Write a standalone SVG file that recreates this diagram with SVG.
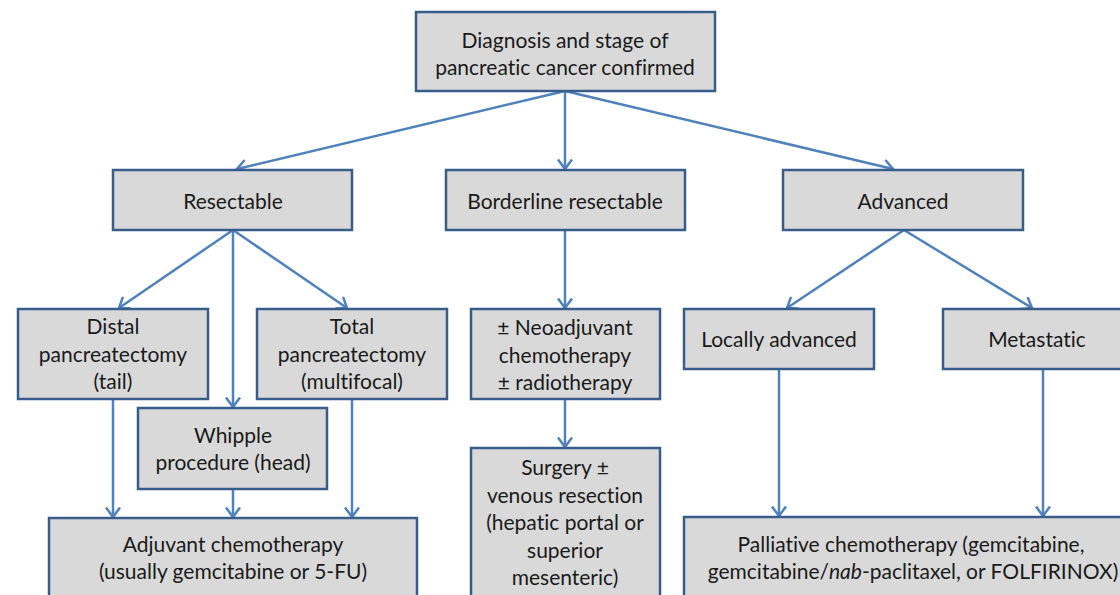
<svg xmlns="http://www.w3.org/2000/svg" width="1120" height="595" viewBox="0 0 1120 595">
  <defs>
    <style>
      .box { fill: #d9d9d9; stroke: #385d8a; stroke-width: 2.5; }
      .lbl { font-family: Lato, "Liberation Sans", sans-serif; font-size: 21px; fill: #1a1a1a; text-anchor: middle; font-variant-ligatures: none; }
      .edge { fill: none; stroke: #4f81bd; stroke-width: 2.5; marker-end: url(#arrow); }
    </style>
    <marker id="arrow" markerUnits="userSpaceOnUse" viewBox="0 0 12 16" markerWidth="12" markerHeight="16" refX="10.5" refY="8" orient="auto">
      <path d="M1,1 L10.5,8 L1,15" fill="none" stroke="#4f81bd" stroke-width="2.5"/>
    </marker>
  </defs>
  <rect width="1120" height="595" fill="#ffffff"/>

  <!-- connectors -->
  <g id="connectors">
    <line class="edge" x1="565" y1="91" x2="237" y2="169"/>
    <line class="edge" x1="565" y1="91" x2="565" y2="169"/>
    <line class="edge" x1="565" y1="91" x2="893" y2="169"/>
    <line class="edge" x1="233" y1="230" x2="119" y2="308"/>
    <line class="edge" x1="233" y1="230" x2="233" y2="407"/>
    <line class="edge" x1="233" y1="230" x2="347" y2="308"/>
    <line class="edge" x1="113" y1="399" x2="113" y2="517"/>
    <line class="edge" x1="233" y1="489" x2="233" y2="517"/>
    <line class="edge" x1="352" y1="399" x2="352" y2="517"/>
    <line class="edge" x1="565" y1="230" x2="565" y2="308"/>
    <line class="edge" x1="565" y1="399" x2="565" y2="447"/>
    <line class="edge" x1="904" y1="230" x2="787" y2="308"/>
    <line class="edge" x1="904" y1="230" x2="1032" y2="308"/>
    <line class="edge" x1="779" y1="369" x2="779" y2="516"/>
    <line class="edge" x1="1043" y1="369" x2="1043" y2="516"/>
  </g>

  <g id="diagnosis">
    <rect class="box" x="416" y="12" width="299" height="79"/>
    <text class="lbl" x="565" y="48">Diagnosis and stage of</text>
    <text class="lbl" x="565" y="75">pancreatic cancer confirmed</text>
  </g>

  <g id="resectable">
    <rect class="box" x="113" y="170" width="239" height="60"/>
    <text class="lbl" x="233" y="209">Resectable</text>
  </g>

  <g id="borderline">
    <rect class="box" x="446" y="170" width="239" height="60"/>
    <text class="lbl" x="565" y="209">Borderline resectable</text>
  </g>

  <g id="advanced">
    <rect class="box" x="783" y="170" width="240" height="60"/>
    <text class="lbl" x="903" y="209">Advanced</text>
  </g>

  <g id="distal">
    <rect class="box" x="18" y="309" width="190" height="90"/>
    <text class="lbl" x="113" y="334">Distal</text>
    <text class="lbl" x="113" y="362">pancreatectomy</text>
    <text class="lbl" x="113" y="389">(tail)</text>
  </g>

  <g id="total">
    <rect class="box" x="257" y="309" width="190" height="90"/>
    <text class="lbl" x="352" y="334">Total</text>
    <text class="lbl" x="352" y="362">pancreatectomy</text>
    <text class="lbl" x="352" y="389">(multifocal)</text>
  </g>

  <g id="whipple">
    <rect class="box" x="138" y="408" width="189" height="81"/>
    <text class="lbl" x="233" y="443">Whipple</text>
    <text class="lbl" x="233" y="470">procedure (head)</text>
  </g>

  <g id="adjuvant">
    <rect class="box" x="49" y="518" width="368" height="90"/>
    <text class="lbl" x="233" y="552">Adjuvant chemotherapy</text>
    <text class="lbl" x="233" y="579">(usually gemcitabine or 5-FU)</text>
  </g>

  <g id="neoadjuvant">
    <rect class="box" x="471" y="309" width="189" height="90"/>
    <text class="lbl" x="565" y="335">± Neoadjuvant</text>
    <text class="lbl" x="565" y="363">chemotherapy</text>
    <text class="lbl" x="565" y="390">± radiotherapy</text>
  </g>

  <g id="surgery">
    <rect class="box" x="471" y="448" width="189" height="160"/>
    <text class="lbl" x="565" y="475">Surgery ±</text>
    <text class="lbl" x="565" y="503">venous resection</text>
    <text class="lbl" x="565" y="530">(hepatic portal or</text>
    <text class="lbl" x="565" y="558">superior</text>
    <text class="lbl" x="565" y="585">mesenteric)</text>
  </g>

  <g id="locally-advanced">
    <rect class="box" x="684" y="309" width="190" height="60"/>
    <text class="lbl" x="779" y="347">Locally advanced</text>
  </g>

  <g id="metastatic">
    <rect class="box" x="943" y="309" width="190" height="60"/>
    <text class="lbl" x="1037" y="347">Metastatic</text>
  </g>

  <g id="palliative">
    <rect class="box" x="684" y="517" width="460" height="90"/>
    <text class="lbl" x="911" y="552">Palliative chemotherapy (gemcitabine,</text>
    <text class="lbl" x="913" y="579">gemcitabine/<tspan font-style="italic">nab</tspan>-paclitaxel, or FOLFIRINOX)</text>
  </g>
</svg>
